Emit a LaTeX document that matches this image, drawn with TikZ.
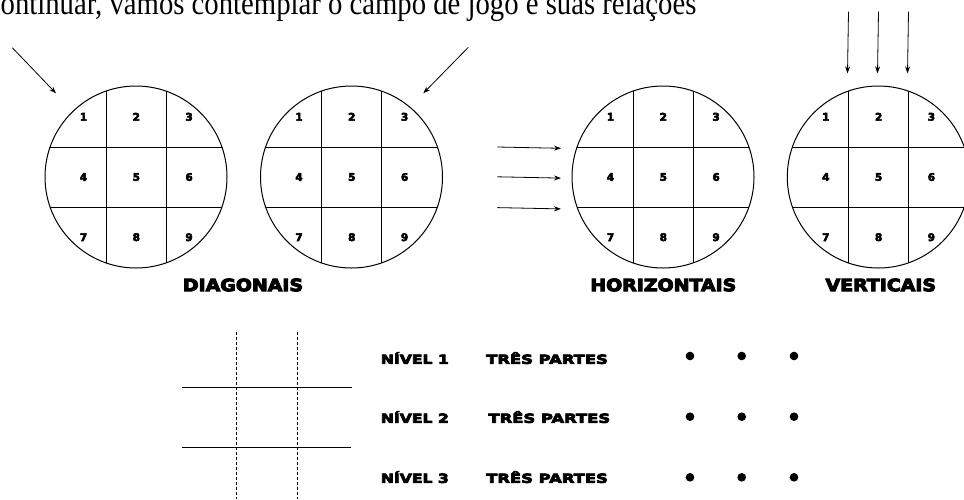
\documentclass[tikz,border=0pt]{standalone}
\usepackage{fontspec}
\setmainfont{Liberation Serif}[FakeStretch=0.87]
\newfontfamily\heavyA{DejaVu Sans}[FakeStretch=1.12,FakeBold=6]
\newfontfamily\heavyB{DejaVu Sans}[FakeStretch=1.25,FakeBold=6]
\newfontfamily\heavyC{DejaVu Sans}[FakeStretch=1.31,FakeBold=6]
\newfontfamily\numfont{DejaVu Sans}[FakeBold=5]
\usetikzlibrary{arrows.meta}
\tikzset{
  ring/.style={circle,draw,line width=1pt,minimum size=182pt,inner sep=0pt},
  gridline/.style={line width=0.9pt},
  arr/.style={line width=0.8pt,-{Stealth[length=7pt,width=5pt]}},
  numlab/.style={font=\numfont\bfseries\fontsize{10.5}{11}\selectfont,inner sep=0pt},
  biglab/.style={font=\heavyA\bfseries\fontsize{16.9}{18}\selectfont,inner sep=0pt},
  smalllab/.style={font=\heavyB\bfseries\fontsize{12.5}{14}\selectfont,inner sep=0pt,anchor=base west},
  partlab/.style={font=\heavyC\bfseries\fontsize{12.5}{14}\selectfont,inner sep=0pt,anchor=base west},
  dot/.style={circle,fill,draw,line width=1pt,minimum size=7.5pt,inner sep=0pt},
  dashline/.style={line width=0.7pt,dash pattern=on 3pt off 2pt},
}
\begin{document}
\begin{tikzpicture}[x=1pt,y=-1pt]
\useasboundingbox (0,0) rectangle (964,499);
\clip (0,0) rectangle (964,499);
% top text
\node[anchor=base west,inner sep=0pt,font=\fontsize{33}{35}\selectfont] (top) at (0.5,14.5)
  {ontinuar, vamos contemplar o campo de jogo e suas relações};
% circles
\foreach \i/\cx in {1/136,2/351.5,3/663,4/878.3}{
  \node[ring] (c\i) at (\cx,177) {};
  \begin{scope}
    \clip (\cx,177) circle[radius=91pt];
    \draw[gridline] (\cx-30,80) -- (\cx-30,275);
    \draw[gridline] (\cx+30,80) -- (\cx+30,275);
    \draw[gridline] (\cx-95,147) -- (\cx+95,147);
    \draw[gridline] (\cx-95,207.3) -- (\cx+95,207.3);
  \end{scope}
  \foreach \r in {0,1,2}{
    \foreach \c in {0,1,2}{
      \pgfmathtruncatemacro\lab{3*\r+\c+1}
      \node[numlab] (n\i-\lab) at (\cx-52.5+52.8*\c,116.8+60.2*\r) {\lab};
    }
  }
}
% arrows
\coordinate (a1s) at (12.3,47.7);  \coordinate (a1e) at (56,93.3);
\coordinate (a2s) at (468.3,47.3); \coordinate (a2e) at (423.3,93.3);
\draw[arr] (a1s) -- (a1e);
\draw[arr] (a2s) -- (a2e);
\foreach \k/\y in {1/147,2/176.8,3/207.6}{
  \coordinate (h\k s) at (497.3,\y);
  \coordinate (h\k e) at (561,\y+1.3);
  \draw[arr] (h\k s) -- (h\k e);
}
\foreach \k/\x in {1/848,2/878,3/908}{
  \coordinate (v\k s) at (\x+0.5,11.7);
  \coordinate (v\k e) at (\x-0.5,73.3);
  \draw[arr] (v\k s) -- (v\k e);
}
% labels
\node[biglab] (ldiag) at (243,285) {DIAGONAIS};
\node[biglab] (lhor) at (663.3,285) {HORIZONTAIS};
\node[biglab] (lver) at (880.8,285) {VERTICAIS};
% bottom grid
\draw[dashline] (236.7,331.7) -- (236.7,499);
\draw[dashline] (297.3,331.7) -- (297.3,499);
\draw[gridline] (182,387.3) -- (352.3,387.3);
\draw[gridline] (181.7,447.3) -- (351.3,447.3);
% levels
\foreach \k/\y/\tx in {1/363.8/486,2/422.8/488.3,3/482.8/486}{
  \node[smalllab] (niv\k) at (380.7,\y) {NÍVEL \k};
  \node[partlab] (tp\k) at (\tx,\y) {TRÊS PARTES};
}
\foreach \k/\y in {1/356,2/416.7,3/477.3}{
  \foreach \j/\x in {1/690,2/741.7,3/794}{
    \node[dot] (d\k-\j) at (\x,\y) {};
  }
}
\end{tikzpicture}
\end{document}
